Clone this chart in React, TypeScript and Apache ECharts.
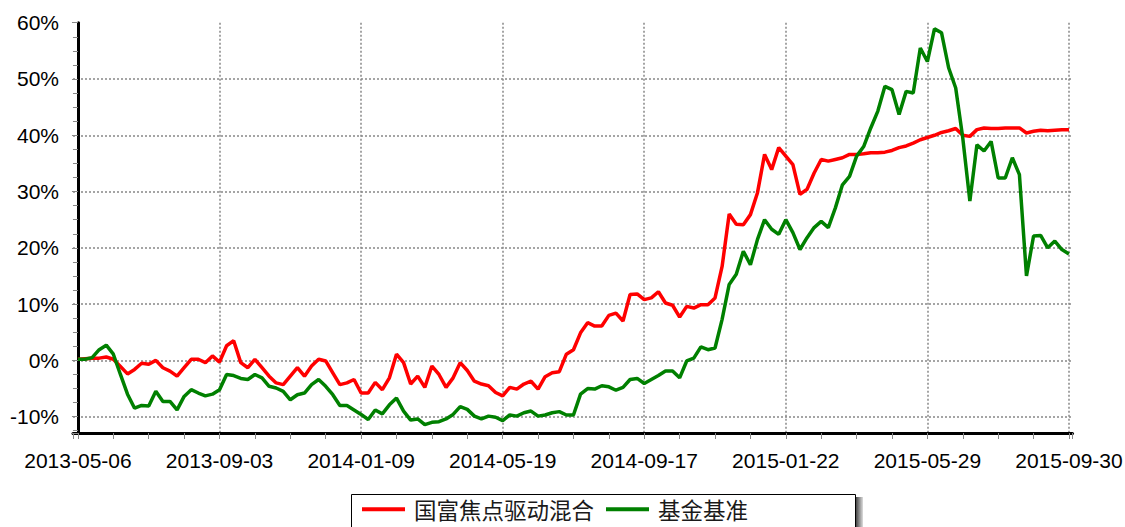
import React, { useEffect, useRef } from "react";
import * as echarts from "echarts";

const xTickLabels = ["2013-05-06", "2013-09-03", "2014-01-09", "2014-05-19", "2014-09-17", "2015-01-22", "2015-05-29", "2015-09-30"];
const seriesNames = ["国富焦点驱动混合", "基金基准"];

const fundValues = [
  0.2, 0.3, 0.4, 0.4, 0.6, 0.2, -1.1, -2.4, -1.6, -0.5,
  -0.7, 0.0, -1.3, -1.9, -2.8, -1.3, 0.2, 0.2, -0.4, 0.8,
  -0.3, 2.6, 3.5, -0.4, -1.3, 0.2, -1.3, -2.8, -4.0, -4.3,
  -2.8, -1.3, -2.8, -1.0, 0.2, -0.1, -2.2, -4.3, -4.0, -3.4,
  -5.8, -5.8, -3.9, -5.2, -3.1, 1.1, -0.4, -4.2, -2.8, -4.8,
  -1.0, -2.5, -4.8, -3.1, -0.4, -1.8, -3.7, -4.2, -4.5, -5.7,
  -6.3, -4.8, -5.1, -4.2, -3.7, -5.1, -2.9, -2.2, -2.0, 1.1,
  1.9, 4.9, 6.7, 6.1, 6.1, 8.0, 8.4, 7.0, 11.7, 11.8,
  10.8, 11.1, 12.2, 10.2, 9.8, 7.7, 9.6, 9.3, 9.9, 9.9,
  11.1, 16.7, 26.0, 24.2, 24.1, 25.9, 29.8, 36.6, 33.9, 37.8,
  36.3, 34.8, 29.5, 30.4, 33.3, 35.7, 35.4, 35.7, 36.0, 36.6,
  36.6, 36.7, 36.9, 36.9, 37.0, 37.3, 37.8, 38.1, 38.6, 39.2,
  39.6, 40.0, 40.5, 40.8, 41.2, 40.0, 39.8, 41.0, 41.3, 41.2,
  41.2, 41.3, 41.3, 41.3, 40.4, 40.7, 40.9, 40.8, 40.9, 41.0,
  41.0,
];

const benchValues = [
  0.2, 0.2, 0.5, 1.9, 2.7, 1.1, -2.5, -6.0, -8.5, -8.0,
  -8.1, -5.5, -7.3, -7.3, -8.8, -6.4, -5.2, -5.8, -6.3, -6.0,
  -5.2, -2.5, -2.7, -3.2, -3.4, -2.5, -3.1, -4.6, -4.9, -5.5,
  -7.0, -6.1, -5.8, -4.3, -3.4, -4.6, -6.1, -8.0, -8.0, -8.8,
  -9.6, -10.5, -8.8, -9.5, -7.9, -6.7, -9.0, -10.6, -10.4, -11.4,
  -11.0, -10.9, -10.4, -9.6, -8.2, -8.7, -9.9, -10.4, -9.9, -10.1,
  -10.7, -9.7, -9.9, -9.3, -9.0, -9.9, -9.7, -9.3, -9.1, -9.7,
  -9.7, -6.0, -5.0, -5.1, -4.5, -4.7, -5.3, -4.8, -3.4, -3.2,
  -4.1, -3.4, -2.7, -1.9, -1.9, -3.1, -0.1, 0.4, 2.4, 1.9,
  2.2, 7.3, 13.5, 15.3, 19.4, 17.0, 21.5, 25.0, 23.3, 22.4,
  25.0, 22.7, 19.7, 21.8, 23.6, 24.7, 23.6, 27.1, 31.2, 32.7,
  36.3, 38.0, 41.3, 44.3, 48.7, 48.1, 43.7, 47.8, 47.5, 55.5,
  53.1, 58.9, 58.2, 52.0, 48.4, 39.5, 28.3, 38.3, 37.2, 38.9,
  32.4, 32.4, 36.0, 33.0, 15.0, 22.1, 22.2, 20.0, 21.2, 19.7,
  18.9,
];

const LABEL_STEP = 20;

export default function App() {
  const ref = useRef<HTMLDivElement>(null);

  useEffect(() => {
    if (!ref.current) return;
    const chart = echarts.init(ref.current, undefined, { renderer: "svg" });
    const axisFont = "'Liberation Sans', Arial, sans-serif";
    const lastIndex = fundValues.length - 1;

    chart.setOption({
      animation: false,
      backgroundColor: "#ffffff",
      grid: {
        left: 73,
        right: 52.5,
        top: 22.7,
        bottom: 94,
        containLabel: false,
        outerBoundsMode: "none",
      },
      xAxis: {
        type: "value",
        min: -0.7,
        max: lastIndex + 0.5,
        splitNumber: 7,
        axisLine: { show: true, onZero: false, lineStyle: { color: "#000", width: 3 } },
        axisTick: { show: true, length: 6, lineStyle: { color: "#888", width: 1 } },
        minorTick: { show: true, splitNumber: 4, length: 6, lineStyle: { color: "#888", width: 1 } },
        splitLine: {
          show: true,
          showMinLine: false,
          showMaxLine: false,
          lineStyle: { type: [2, 2], color: "#888", width: 1.5 },
        },
        axisLabel: {
          fontSize: 21,
          fontFamily: axisFont,
          color: "#000",
          margin: 17,
          showMinLabel: true,
          showMaxLabel: true,
          formatter: (v: number) => {
            const k = v / LABEL_STEP;
            if (Math.abs(k - Math.round(k)) > 1e-6) return "";
            return xTickLabels[Math.round(k)] ?? "";
          },
        },
      },
      yAxis: {
        type: "value",
        min: -12.9,
        max: 60,
        splitNumber: 7,
        axisLine: { show: true, lineStyle: { color: "#000", width: 3 } },
        axisTick: { show: true, length: 6, lineStyle: { color: "#888", width: 1 } },
        minorTick: { show: true, splitNumber: 4, length: 5, lineStyle: { color: "#888", width: 1 } },
        splitLine: {
          show: true,
          showMinLine: false,
          showMaxLine: false,
          lineStyle: { type: [2, 2], color: "#888", width: 1.5 },
        },
        axisLabel: {
          fontSize: 21,
          fontFamily: axisFont,
          color: "#000",
          margin: 14,
          formatter: (v: number) => {
            const k = v / 10;
            if (Math.abs(k - Math.round(k)) > 1e-6) return "";
            return `${Math.round(v)}%`;
          },
        },
      },
      legend: {
        show: true,
        z: 10,
        left: 362,
        top: 498,
        padding: 0,
        itemWidth: 43,
        itemHeight: 4,
        itemGap: 12,
        icon: "rect",
        data: seriesNames,
        textStyle: {
          fontSize: 22.5,
          lineHeight: 22,
          fontFamily: "'Noto Sans CJK SC', sans-serif",
          color: "#1a1a1a",
          padding: [0, 0, 0, 4],
        },
      },
      graphic: [
        {
          type: "rect",
          z: 1,
          silent: true,
          shape: { x: 856, y: 497, width: 7, height: 40 },
          style: {
            fill: new echarts.graphic.LinearGradient(0, 0, 1, 0, [
              { offset: 0, color: "#444" },
              { offset: 1, color: "#ddd" },
            ]),
          },
        },
        {
          type: "rect",
          z: 2,
          silent: true,
          shape: { x: 351.5, y: 494.5, width: 504, height: 40 },
          style: { fill: "#fff", stroke: "#000", lineWidth: 1 },
        },
      ],
      series: [
        {
          name: seriesNames[0],
          type: "line",
          data: fundValues.map((v, i) => [i, v]),
          showSymbol: false,
          symbol: "none",
          color: "#ff0000",
          lineStyle: { color: "#ff0000", width: 3.5 },
          z: 3,
        },
        {
          name: seriesNames[1],
          type: "line",
          data: benchValues.map((v, i) => [i, v]),
          showSymbol: false,
          symbol: "none",
          color: "#008000",
          lineStyle: { color: "#008000", width: 3.5 },
          z: 4,
        },
      ],
    });

    return () => {
      chart.dispose();
    };
  }, []);

  return (
    <div
      ref={ref}
      style={{ position: "absolute", left: 0, top: 0, width: 1125, height: 527 }}
    />
  );
}
